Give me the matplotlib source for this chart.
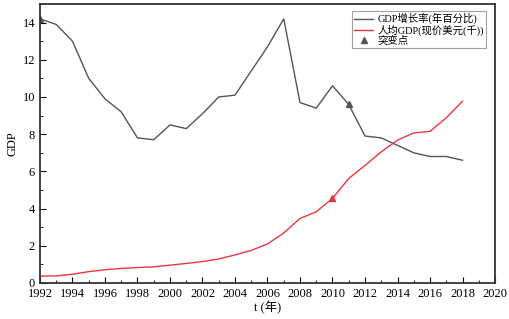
import numpy as np
import matplotlib
matplotlib.use("Agg")
import matplotlib.pyplot as plt
from matplotlib.ticker import MultipleLocator

plt.rcParams["font.family"] = ["Liberation Serif", "Noto Sans CJK SC"]

# Data: China GDP growth (%) and GDP per capita (current US$, thousands)
years = list(range(1992, 2019))
gdp_growth = [14.2, 13.9, 13.0, 11.0, 9.9, 9.2, 7.8, 7.7, 8.5, 8.3, 9.1,
              10.0, 10.1, 11.4, 12.7, 14.2, 9.7, 9.4, 10.6, 9.6, 7.9, 7.8,
              7.4, 7.0, 6.8, 6.8, 6.6]
gdp_per_capita = [0.37, 0.38, 0.47, 0.61, 0.71, 0.78, 0.83, 0.87, 0.96,
                  1.05, 1.15, 1.29, 1.51, 1.75, 2.10, 2.69, 3.47, 3.83,
                  4.55, 5.62, 6.32, 7.05, 7.68, 8.07, 8.15, 8.88, 9.77]
growth_change_years = [1992, 2011]
percap_change_years = [2010]

fig = plt.figure(figsize=(5.1, 3.19), dpi=100)
ax = fig.add_axes([0.0784, 0.1129, 0.8922, 0.8746])

c_gray = "#555555"
c_red = "#e8383d"
ax.plot(years, gdp_growth, color=c_gray, lw=1.0, label="GDP增长率(年百分比)")
ax.plot(years, gdp_per_capita, color=c_red, lw=1.0, label="人均GDP(现价美元(千))")
gx = growth_change_years
gy = [gdp_growth[years.index(y)] for y in gx]
ax.plot(gx, gy, "^", color=c_gray, ms=5, ls="none", label="突变点")
px = percap_change_years
py = [gdp_per_capita[years.index(y)] for y in px]
ax.plot(px, py, "^", color=c_red, ms=5, ls="none")

ax.set_xlim(1992, 2020)
ax.set_ylim(0, 15)
ax.xaxis.set_major_locator(MultipleLocator(2))
ax.xaxis.set_minor_locator(MultipleLocator(1))
ax.yaxis.set_major_locator(MultipleLocator(2))
ax.yaxis.set_minor_locator(MultipleLocator(1))
ax.tick_params(which="both", direction="in", labelsize=9)
ax.tick_params(which="major", length=4)
ax.tick_params(which="minor", length=2)
for s in ax.spines.values():
    s.set_linewidth(1.3)
    s.set_color("#333333")

ax.set_xlabel("t (年)", fontsize=9, labelpad=1)
ax.set_ylabel("GDP", fontsize=9, labelpad=3)

leg = ax.legend(loc="upper right", bbox_to_anchor=(0.98, 0.975), fontsize=7.5,
                frameon=True, fancybox=False, edgecolor="#888888",
                handlelength=1.8, handletextpad=0.4, borderpad=0.2,
                labelspacing=0.0, borderaxespad=0)
leg.get_frame().set_linewidth(0.8)

fig.savefig("out.png", dpi=100)
